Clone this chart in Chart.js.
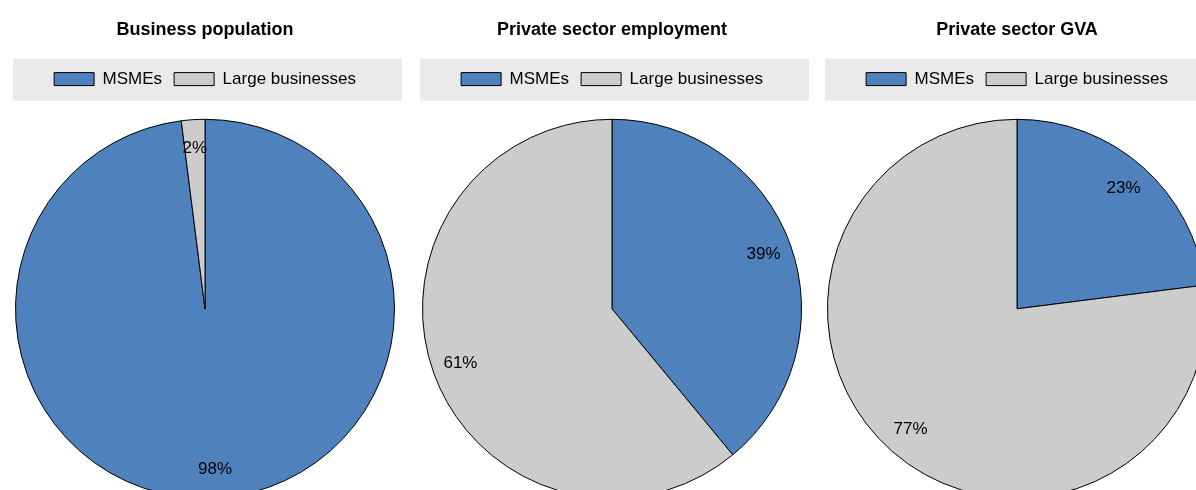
<!DOCTYPE html>
<html lang="en">
<head>
  <meta charset="UTF-8">
  <title>MSMEs share of business population, employment and GVA</title>
  <script src="https://cdn.jsdelivr.net/npm/chart.js"></script>
  <style>
    body {
      margin: 0;
      background: #ffffff;
    }
    .board {
      position: relative;
      width: 1196px;
      height: 490px;
      overflow: hidden;
    }
    .panel {
      position: absolute;
      top: 0;
      width: 410px;
      height: 520px;
    }
  </style>
</head>
<body>
  <div class="board">
    <div class="panel" style="left: 0px;"><canvas id="pie0"></canvas></div>
    <div class="panel" style="left: 407px;"><canvas id="pie1"></canvas></div>
    <div class="panel" style="left: 812px;"><canvas id="pie2"></canvas></div>
  </div>

  <script>
    const panelTitles = ['Business population', 'Private sector employment', 'Private sector GVA'];
    const categories = ['MSMEs', 'Large businesses'];
    const populationShare = [98, 2];
    const employmentShare = [39, 61];
    const gvaShare = [23, 77];
    const sliceColors = ['#4f81bd', '#cccccc'];

    const FONT = "'Liberation Sans Narrow', 'Liberation Sans', Arial, sans-serif";
    Chart.defaults.font.family = FONT;
    Chart.defaults.color = '#000000';

    // grey strip behind the legend row
    const legendBand = {
      id: 'legendBand',
      beforeDraw(chart) {
        const l = chart.legend;
        const ctx = chart.ctx;
        ctx.save();
        ctx.fillStyle = '#eaeaea';
        ctx.fillRect(l.left - 2, l.top, l.width + 9, l.height + 3);
        ctx.restore();
      }
    };

    // percentage text inside each slice, near the rim
    const sliceLabels = {
      id: 'sliceLabels',
      afterDatasetsDraw(chart) {
        const ctx = chart.ctx;
        const values = chart.data.datasets[0].data;
        ctx.save();
        ctx.font = `17px ${FONT}`;
        ctx.fillStyle = '#000000';
        ctx.textAlign = 'center';
        ctx.textBaseline = 'middle';
        chart.getDatasetMeta(0).data.forEach((arc, i) => {
          const p = arc.getProps(['x', 'y', 'startAngle', 'endAngle', 'outerRadius'], true);
          const mid = (p.startAngle + p.endAngle) / 2;
          const r = p.outerRadius * 0.85;
          ctx.fillText(values[i] + '%', p.x + Math.cos(mid) * r, p.y + Math.sin(mid) * r);
        });
        ctx.restore();
      }
    };

    function makePie(id, title, values) {
      return new Chart(document.getElementById(id), {
        type: 'pie',
        data: {
          labels: categories,
          datasets: [{
            data: values,
            backgroundColor: sliceColors,
            borderColor: '#000000',
            borderWidth: 1,
            hoverOffset: 0
          }]
        },
        options: {
          responsive: true,
          maintainAspectRatio: false,
          animation: false,
          layout: { padding: { left: 15, right: 15, top: 0, bottom: 0 } },
          plugins: {
            title: {
              display: true,
              text: title,
              color: '#000000',
              font: { size: 18, weight: 'bold' },
              padding: { top: 19, bottom: 18 }
            },
            legend: {
              position: 'top',
              labels: {
                boxWidth: 40,
                boxHeight: 13,
                padding: 12,
                color: '#000000',
                font: { size: 17 }
              }
            },
            tooltip: { enabled: false }
          }
        },
        plugins: [legendBand, sliceLabels]
      });
    }

    makePie('pie0', panelTitles[0], populationShare);
    makePie('pie1', panelTitles[1], employmentShare);
    makePie('pie2', panelTitles[2], gvaShare);
  </script>
</body>
</html>
